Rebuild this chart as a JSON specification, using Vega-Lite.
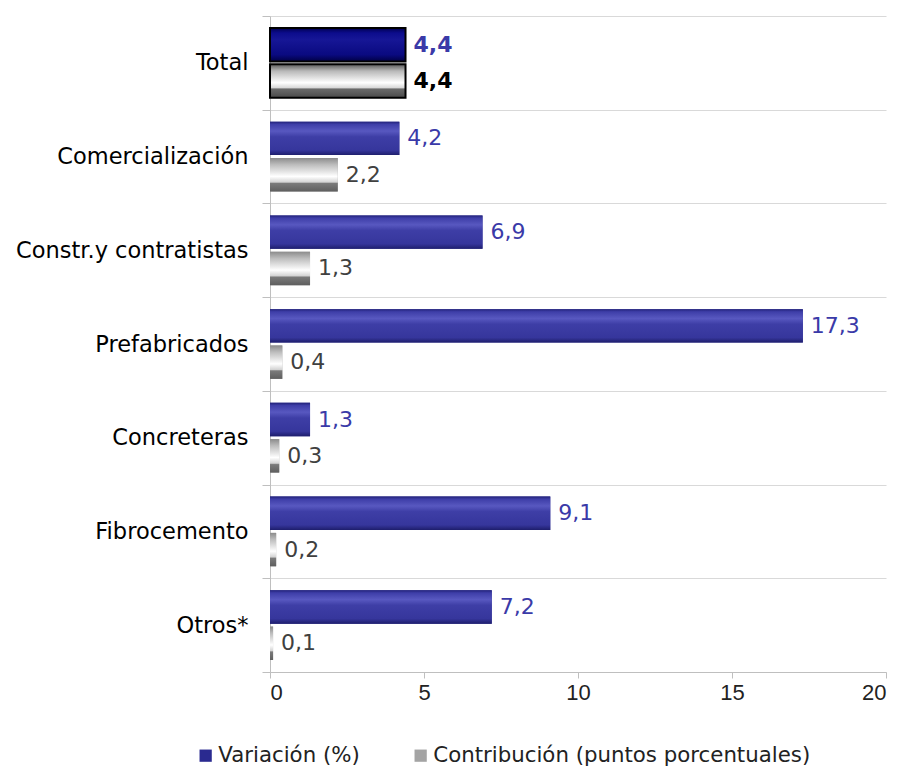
{
  "$schema": "https://vega.github.io/schema/vega-lite/v6.json",
  "autosize": {"type": "none"},
  "width": 616,
  "height": 656,
  "padding": {"left": 270, "top": 16, "right": 14, "bottom": 97},
  "background": "white",
  "config": {
    "locale": {"number": {"decimal": ",", "thousands": ".", "grouping": [3], "currency": ["", ""]}},
    "font": "DejaVu Sans",
    "view": {"stroke": null}
  },
  "data": {
    "values": [
      {"cat": "Total", "series": "Variación (%)", "value": 4.4},
      {"cat": "Total", "series": "Contribución (puntos porcentuales)", "value": 4.4},
      {"cat": "Comercialización", "series": "Variación (%)", "value": 4.2},
      {"cat": "Comercialización", "series": "Contribución (puntos porcentuales)", "value": 2.2},
      {"cat": "Constr.y contratistas", "series": "Variación (%)", "value": 6.9},
      {"cat": "Constr.y contratistas", "series": "Contribución (puntos porcentuales)", "value": 1.3},
      {"cat": "Prefabricados", "series": "Variación (%)", "value": 17.3},
      {"cat": "Prefabricados", "series": "Contribución (puntos porcentuales)", "value": 0.4},
      {"cat": "Concreteras", "series": "Variación (%)", "value": 1.3},
      {"cat": "Concreteras", "series": "Contribución (puntos porcentuales)", "value": 0.3},
      {"cat": "Fibrocemento", "series": "Variación (%)", "value": 9.1},
      {"cat": "Fibrocemento", "series": "Contribución (puntos porcentuales)", "value": 0.2},
      {"cat": "Otros*", "series": "Variación (%)", "value": 7.2},
      {"cat": "Otros*", "series": "Contribución (puntos porcentuales)", "value": 0.1}
    ]
  },
  "encoding": {
    "y": {
      "field": "cat", "type": "nominal", "sort": null, "title": null,
      "scale": {"paddingInner": 0, "paddingOuter": 0},
      "axis": {
        "tickBand": "extent", "grid": true, "gridColor": "#d9d9d9", "gridWidth": 1,
        "domainColor": "#bfbfbf", "tickColor": "#bfbfbf", "tickSize": 8,
        "labelFont": "DejaVu Sans", "labelFontSize": 22.5, "labelColor": "#000000", "labelPadding": 14, "labelLimit": 300
      }
    },
    "yOffset": {
      "field": "series", "type": "nominal", "sort": ["Variación (%)", "Contribución (puntos porcentuales)"],
      "scale": {"paddingInner": 0.08, "paddingOuter": 0.33}
    },
    "x": {
      "field": "value", "type": "quantitative", "title": null,
      "scale": {"domain": [0, 20], "nice": false},
      "axis": {
        "values": [0, 5, 10, 15, 20], "grid": false,
        "domainColor": "#bfbfbf", "tickColor": "#bfbfbf", "tickSize": 6,
        "labelFont": "Liberation Sans", "labelFontSize": 22, "labelColor": "#222222", "labelPadding": 4
      }
    }
  },
  "layer": [
    {
      "mark": {"type": "bar"},
      "encoding": {
        "color": {
          "field": "series", "type": "nominal", "title": null,
          "sort": ["Variación (%)", "Contribución (puntos porcentuales)"],
          "scale": {"domain": ["Variación (%)", "Contribución (puntos porcentuales)"], "range": ["#2a2a90", "#a4a4a4"]},
          "legend": {
            "orient": "none", "direction": "horizontal", "legendX": -75, "legendY": 729,
            "symbolType": "square", "symbolSize": 150, "symbolStrokeWidth": 0,
            "labelFont": "DejaVu Sans", "labelFontSize": 21.3, "labelColor": "#222222",
            "columnPadding": 50, "labelOffset": 2, "labelLimit": 500
          }
        }
      }
    },
    {
      "transform": [{"filter": "datum.series == 'Variación (%)' && datum.cat != 'Total'"}],
      "mark": {
        "type": "bar",
        "color": {"gradient": "linear", "x1": 0, "y1": 0, "x2": 0, "y2": 1,
          "stops": [
            {"offset": 0, "color": "#22227a"},
            {"offset": 0.08, "color": "#3e3ea8"},
            {"offset": 0.28, "color": "#5858c0"},
            {"offset": 0.45, "color": "#3e3ea6"},
            {"offset": 0.85, "color": "#36369c"},
            {"offset": 1, "color": "#1e1e6c"}
          ]}
      }
    },
    {
      "transform": [{"filter": "datum.series != 'Variación (%)' && datum.cat != 'Total'"}],
      "mark": {
        "type": "bar",
        "color": {"gradient": "linear", "x1": 0, "y1": 0, "x2": 0, "y2": 1,
          "stops": [
            {"offset": 0, "color": "#8c8c8c"},
            {"offset": 0.2, "color": "#bdbdbd"},
            {"offset": 0.55, "color": "#ffffff"},
            {"offset": 0.72, "color": "#d4d4d4"},
            {"offset": 0.76, "color": "#7a7a7a"},
            {"offset": 1, "color": "#5e5e5e"}
          ]}
      }
    },
    {
      "transform": [{"filter": "datum.series == 'Variación (%)' && datum.cat == 'Total'"}],
      "mark": {
        "type": "bar", "stroke": "#000000", "strokeWidth": 2,
        "color": {"gradient": "linear", "x1": 0, "y1": 0, "x2": 0, "y2": 1,
          "stops": [
            {"offset": 0, "color": "#000050"},
            {"offset": 0.15, "color": "#0c0c8c"},
            {"offset": 0.35, "color": "#161696"},
            {"offset": 0.8, "color": "#0a0a80"},
            {"offset": 1, "color": "#000045"}
          ]}
      }
    },
    {
      "transform": [{"filter": "datum.series != 'Variación (%)' && datum.cat == 'Total'"}],
      "mark": {
        "type": "bar", "stroke": "#000000", "strokeWidth": 2,
        "color": {"gradient": "linear", "x1": 0, "y1": 0, "x2": 0, "y2": 1,
          "stops": [
            {"offset": 0, "color": "#5a5a5a"},
            {"offset": 0.2, "color": "#b8b8b8"},
            {"offset": 0.55, "color": "#ffffff"},
            {"offset": 0.7, "color": "#d8d8d8"},
            {"offset": 0.74, "color": "#6a6a6a"},
            {"offset": 1, "color": "#4a4a4a"}
          ]}
      }
    },
    {
      "transform": [{"filter": "datum.cat != 'Total'"}],
      "mark": {"type": "text", "align": "left", "baseline": "middle", "dx": 8, "fontSize": 22, "font": "DejaVu Sans"},
      "encoding": {
        "text": {"field": "value", "type": "quantitative", "format": ".1f"},
        "color": {"condition": {"test": "datum.series == 'Variación (%)'", "value": "#3a3aa8"}, "value": "#404040"}
      }
    },
    {
      "transform": [{"filter": "datum.cat == 'Total'"}],
      "mark": {"type": "text", "align": "left", "baseline": "middle", "dx": 8, "fontSize": 22, "font": "DejaVu Sans", "fontWeight": "bold"},
      "encoding": {
        "text": {"field": "value", "type": "quantitative", "format": ".1f"},
        "color": {"condition": {"test": "datum.series == 'Variación (%)'", "value": "#3a3aa8"}, "value": "#000000"}
      }
    }
  ]
}
